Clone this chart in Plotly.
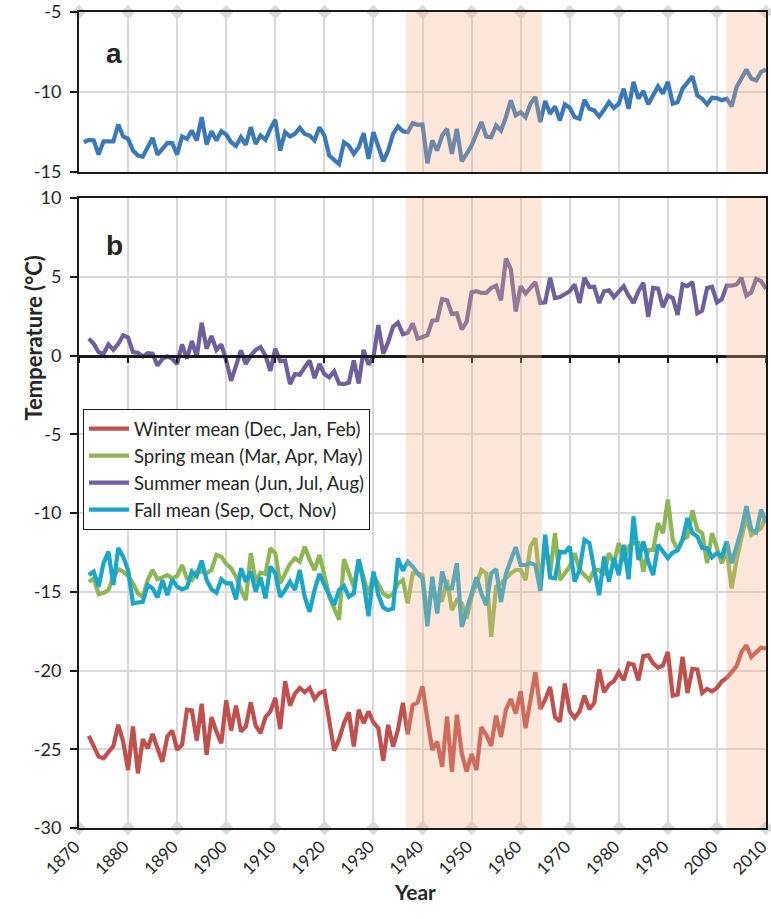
import plotly.graph_objects as go

# ---------------- data ----------------
years_annual = list(range(1871, 2011))
annual_mean = [
    -13.14, -12.99, -13.03, -13.91, -13.08, -13.08, -13.08, -12.03, -12.78, -12.93,
    -13.66, -13.97, -14.04, -13.45, -12.87, -13.91, -13.56, -13.20, -13.20, -13.91,
    -12.78, -12.93, -12.41, -13.03, -11.57, -13.28, -12.45, -13.03, -12.45, -12.66,
    -13.14, -13.37, -12.82, -13.30, -12.20, -13.24, -12.72, -12.99, -12.30, -11.74,
    -13.66, -12.51, -12.78, -12.62, -12.24, -12.62, -12.72, -13.03, -12.20, -12.72,
    -13.97, -14.25, -14.50, -13.14, -13.35, -13.87, -13.45, -12.57, -14.18, -12.51,
    -13.45, -14.33, -13.66, -12.62, -12.15, -12.45, -12.51, -11.95, -12.05, -12.03,
    -14.46, -13.03, -13.66, -12.72, -12.30, -13.87, -12.30, -14.33, -13.87, -13.35,
    -12.62, -11.88, -12.78, -12.82, -12.09, -12.41, -11.57, -10.52, -11.46, -11.26,
    -11.57, -10.73, -10.31, -11.88, -10.56, -11.36, -10.90, -11.78, -10.77, -10.98,
    -11.57, -11.67, -10.48, -11.05, -11.15, -11.53, -11.11, -10.63, -11.00, -10.73,
    -9.79, -11.05, -9.37, -10.42, -9.94, -10.77, -10.21, -9.64, -10.10, -9.37,
    -10.73, -10.63, -9.79, -9.37, -9.02, -10.21, -10.42, -10.77, -10.36, -10.38,
    -10.52, -10.42, -10.90, -9.69, -9.16, -8.60, -9.16, -9.27, -8.74, -8.60,
]

years_season = list(range(1872, 2011))
winter_mean = [
    -24.15, -24.79, -25.47, -25.57, -25.15, -24.79, -23.45, -24.51, -26.32,
    -23.55, -26.53, -24.36, -24.94, -24.02, -24.94, -25.79, -24.19, -23.81, -25.04,
    -24.72, -22.49, -22.53, -24.45, -22.11, -25.36, -22.96, -23.87, -24.62, -21.89,
    -23.81, -22.23, -23.87, -23.55, -22.02, -23.51, -23.98, -22.96, -22.60, -21.74,
    -23.72, -20.68, -22.23, -21.47, -21.11, -21.38, -21.11, -21.81, -21.43, -21.32,
    -23.02, -25.09, -24.36, -23.34, -22.66, -24.83, -22.49, -23.34, -22.60, -23.30,
    -23.66, -25.72, -23.45, -24.83, -23.77, -22.06, -24.05, -22.20, -22.04, -21.00,
    -23.13, -25.04, -24.51, -26.11, -22.91, -26.43, -22.81, -25.26, -26.43, -25.30,
    -26.32, -23.60, -24.09, -24.79, -22.87, -24.23, -22.49, -21.81, -22.74, -21.32,
    -23.66, -21.85, -20.11, -22.45, -21.85, -21.04, -22.96, -23.23, -20.83, -22.60,
    -23.02, -22.60, -21.60, -22.45, -22.06, -19.94, -21.38, -20.89, -20.68, -20.11,
    -20.62, -19.55, -19.62, -20.62, -19.09, -19.04, -19.55, -19.83, -19.68, -18.83,
    -21.60, -21.53, -19.13, -21.43, -19.89, -19.94, -21.43, -21.17, -21.32, -21.11,
    -20.68, -20.47, -20.04, -19.72, -18.83, -18.40, -19.13, -18.87, -18.55, -18.62,
]
spring_mean = [
    -14.36, -14.15, -15.15, -15.06, -14.89, -14.04, -13.57, -13.72, -14.00,
    -14.47, -15.11, -15.32, -14.26, -13.62, -14.21, -14.04, -13.94, -14.15, -14.00,
    -13.30, -14.15, -14.26, -13.72, -13.72, -13.83, -13.62, -12.66, -12.77, -13.23,
    -13.51, -14.04, -14.89, -15.53, -12.55, -14.36, -13.79, -13.87, -12.23, -12.55,
    -14.47, -13.83, -13.23, -12.87, -13.09, -12.13, -12.98, -13.62, -12.66, -13.94,
    -15.32, -16.06, -16.77, -12.94, -13.83, -14.68, -12.98, -14.04, -15.21, -13.94,
    -14.47, -15.11, -15.32, -15.15, -14.47, -14.26, -15.74, -13.83, -13.83, -13.94,
    -16.60, -14.68, -15.53, -15.53, -14.26, -16.17, -15.53, -15.74, -16.70, -15.32,
    -14.47, -13.62, -13.83, -17.87, -14.68, -14.47, -14.15, -13.83, -13.62, -13.62,
    -14.26, -12.13, -11.60, -14.68, -11.91, -13.83, -11.28, -14.26, -13.83, -13.40,
    -12.55, -13.62, -13.94, -14.26, -13.62, -13.62, -13.94, -12.55, -13.19, -11.91,
    -13.09, -12.13, -11.91, -11.91, -13.72, -12.34, -12.34, -10.64, -11.28, -9.15,
    -11.70, -12.34, -11.70, -11.49, -9.83, -11.06, -11.28, -13.19, -11.28, -12.34,
    -13.19, -12.34, -14.79, -12.98, -11.70, -10.21, -11.38, -11.17, -10.96, -10.21,
]
summer_mean = [
    1.07, 0.75, 0.21, 0.11, 0.71, 0.36, 0.75, 1.29, 1.14,
    0.21, 0.17, -0.06, 0.15, 0.11, -0.64, -0.21, -0.06, -0.21, -0.54,
    0.71, -0.21, 0.92, -0.06, 2.08, 0.43, 1.24, 0.36, 0.71, -0.32,
    -1.61, -0.64, 0.32, -0.54, 0.00, 0.36, 0.54, 0.00, -0.97, 0.43,
    -0.36, -0.32, -1.82, -1.18, -1.22, -0.75, -0.32, -1.44, -0.54, -1.18,
    -1.39, -1.01, -1.78, -1.82, -1.72, -0.32, -1.78, 0.36, -0.58, -0.11,
    1.93, 0.11, 0.86, 1.82, 2.08, 1.35, 1.44, 2.04, 1.07, 1.18,
    1.29, 2.21, 2.25, 3.58, 3.50, 2.64, 2.68, 1.65, 2.15, 4.01,
    4.08, 3.97, 3.97, 4.29, 4.44, 3.50, 6.16, 5.47, 2.79, 4.40,
    3.93, 4.29, 4.66, 3.33, 3.37, 4.94, 3.65, 3.71, 3.93, 4.08,
    4.51, 3.33, 4.94, 4.36, 4.36, 3.33, 4.08, 4.14, 3.71, 4.08,
    4.40, 3.80, 3.33, 4.08, 4.61, 2.47, 4.29, 4.25, 3.07, 3.80,
    3.65, 2.58, 4.51, 4.40, 4.66, 2.68, 2.85, 4.29, 4.36, 3.37,
    3.58, 4.44, 4.44, 4.51, 4.94, 3.80, 4.01, 4.87, 4.72, 4.23,
]
fall_mean = [
    -13.94, -13.72, -14.68, -13.19, -12.45, -14.57, -12.23, -12.77, -13.62,
    -15.74, -15.68, -15.64, -14.57, -14.79, -15.36, -14.26, -15.21, -14.21, -14.68,
    -14.85, -14.72, -13.72, -14.00, -13.02, -14.26, -14.85, -15.06, -14.21, -14.47,
    -14.47, -15.49, -13.51, -14.36, -13.72, -15.00, -14.09, -15.43, -13.40, -13.83,
    -15.32, -14.89, -14.36, -14.89, -13.62, -15.32, -16.28, -14.89, -13.87, -14.57,
    -15.15, -15.85, -14.89, -14.64, -15.32, -15.11, -12.94, -14.43, -16.55, -13.72,
    -15.21, -16.00, -16.17, -16.06, -12.87, -13.66, -13.09, -13.40, -13.83, -14.15,
    -17.19, -14.04, -16.38, -13.72, -14.79, -14.79, -13.19, -17.23, -16.13, -15.11,
    -14.09, -15.11, -15.85, -13.83, -13.57, -15.64, -13.87, -12.98, -12.17, -13.30,
    -13.30, -13.19, -13.30, -14.94, -11.38, -14.09, -14.15, -12.45, -12.51, -12.13,
    -14.36, -13.62, -11.70, -11.91, -13.62, -15.21, -12.77, -14.36, -12.87, -13.94,
    -12.02, -14.21, -10.21, -12.98, -11.81, -13.09, -13.94, -12.02, -12.45, -12.87,
    -12.51, -12.38, -11.70, -10.32, -11.28, -11.49, -12.23, -12.23, -12.81, -12.55,
    -12.77, -11.81, -13.19, -12.13, -11.06, -9.57, -11.06, -11.23, -9.79, -10.60,
]

season_names = [
    "Winter mean (Dec, Jan, Feb)",
    "Spring mean (Mar, Apr, May)",
    "Summer mean (Jun, Jul, Aug)",
    "Fall mean (Sep, Oct, Nov)",
]
season_values = [winter_mean, spring_mean, summer_mean, fall_mean]
season_colors = ["#C0504D", "#8DB654", "#6F5F9E", "#1BA5C9"]
annual_color = "#3A78B8"

decade_ticks = list(range(1870, 2011, 10))
decade_labels = [str(y) for y in decade_ticks]
ya_ticks = [-15, -10, -5]
yb_ticks = list(range(-30, 11, 5))
shade_periods = [(1936.6, 1964.3), (2001.9, 2010)]

# ---------------- figure ----------------
FONT = "Lato"
TXT = "#262626"
GRID = "#d9d9d9"
AXC = "#1a1a1a"
LW = 4.2

fig = go.Figure()

fig.add_trace(go.Scatter(
    x=years_annual, y=annual_mean, mode="lines", xaxis="x", yaxis="y",
    line=dict(color=annual_color, width=LW), showlegend=False, name="Annual mean"))

draw_order = [2, 0, 1, 3]
for i in draw_order:
    fig.add_trace(go.Scatter(
        x=years_season, y=season_values[i], mode="lines", xaxis="x2", yaxis="y2",
        line=dict(color=season_colors[i], width=LW), name=season_names[i],
        legendgroup=str(i), legendrank=i + 1))

# diamond tick markers
fig.add_trace(go.Scatter(
    x=decade_ticks, y=[-5] * len(decade_ticks), mode="markers", xaxis="x", yaxis="y",
    marker=dict(symbol="diamond", size=11, color=GRID), cliponaxis=False,
    showlegend=False, hoverinfo="skip"))
fig.add_trace(go.Scatter(
    x=decade_ticks, y=[-30] * len(decade_ticks), mode="markers", xaxis="x2", yaxis="y2",
    marker=dict(symbol="diamond", size=11, color=GRID), cliponaxis=False,
    showlegend=False, hoverinfo="skip"))

# plot geometry (pixels)
W, H = 771, 919
L, R, T, B = 79, 5, 12, 91
ph = H - T - B
pw = W - L - R
a_bottom = (H - B - 172) / ph
b_top = (H - B - 198) / ph
yb_range = [-30, 10]
zero_pos = b_top * (0 - yb_range[0]) / (yb_range[1] - yb_range[0])

common_x = dict(range=[1870, 2010], tickvals=decade_ticks, showgrid=True, gridcolor=GRID,
                gridwidth=1.5, showline=True, mirror=True, linecolor=AXC, linewidth=2,
                zeroline=False, ticks="", automargin=False)
common_y = dict(showgrid=True, gridcolor=GRID, gridwidth=1.5, showline=True, mirror=True,
                linecolor=AXC, linewidth=2, zeroline=False, ticks="outside", ticklen=7,
                tickwidth=1.5, tickcolor=AXC, ticklabelstandoff=5, automargin=False,
                ticklabeloverflow="allow",
                tickfont=dict(family=FONT, size=18, color=TXT))

fig.update_layout(
    width=W, height=H,
    margin=dict(l=L, r=R, t=T, b=B, autoexpand=False),
    paper_bgcolor="white", plot_bgcolor="white",
    xaxis=dict(domain=[0, 1], anchor="y", showticklabels=False, **common_x),
    yaxis=dict(domain=[a_bottom, 1], anchor="x", range=[-15, -5], tickvals=ya_ticks,
               ticktext=[str(v) for v in ya_ticks], **common_y),
    xaxis2=dict(domain=[0, 1], anchor="y2", showticklabels=True, ticktext=decade_labels,
                tickangle=-45, ticklabeloverflow="allow", ticklabelshift=-4,
                tickfont=dict(family=FONT, size=17, color=TXT), **common_x),
    yaxis2=dict(domain=[0, b_top], anchor="x2", range=yb_range, tickvals=yb_ticks,
                ticktext=[str(v) for v in yb_ticks], **common_y),
    xaxis3=dict(overlaying="x2", anchor="free", position=zero_pos, range=[1870, 2010],
                tickvals=decade_ticks, showticklabels=False, showgrid=False, zeroline=False,
                showline=True, linecolor=AXC, linewidth=2.5, ticks="outside", ticklen=6,
                tickwidth=2, tickcolor=AXC, automargin=False),
    legend=dict(x=(83 - L) / pw, y=(H - B - 409) / ph, xanchor="left", yanchor="top",
                bordercolor=AXC, borderwidth=1, bgcolor="white",
                font=dict(family=FONT, size=18.5, color=TXT), tracegroupgap=5,
                traceorder="normal", itemwidth=40),
    showlegend=True,
)

fig.add_trace(go.Scatter(x=[1870, 2010], y=[None, None], xaxis="x3", yaxis="y2",
                         showlegend=False, hoverinfo="skip", mode="lines"))

shapes = []
for x0, x1 in shade_periods:
    shapes.append(dict(type="rect", xref="x", yref="y", x0=x0, x1=x1, y0=-15, y1=-5,
                       fillcolor="rgba(244,177,131,0.30)", line=dict(width=0), layer="above"))
    shapes.append(dict(type="rect", xref="x2", yref="y2", x0=x0, x1=x1, y0=-30, y1=10,
                       fillcolor="rgba(244,177,131,0.30)", line=dict(width=0), layer="above"))
fig.update_layout(shapes=shapes)

fig.add_annotation(text="<b>a</b>", xref="paper", yref="paper",
                   x=(104 - L) / pw, y=(H - B - 36) / ph, showarrow=False,
                   font=dict(family="Liberation Sans", size=28, color=TXT))
fig.add_annotation(text="<b>b</b>", xref="paper", yref="paper",
                   x=(104 - L) / pw, y=(H - B - 228) / ph, showarrow=False,
                   font=dict(family="Liberation Sans", size=28, color=TXT))
fig.add_annotation(text="<b>Temperature (°C)</b>", xref="paper", yref="paper",
                   x=(17 - L) / pw, y=(H - B - 338) / ph, showarrow=False, textangle=-90,
                   font=dict(family=FONT, size=22, color=TXT))
fig.add_annotation(text="<b>Year</b>", xref="paper", yref="paper",
                   x=(415 - L) / pw, y=(H - B - 906) / ph, showarrow=False,
                   font=dict(family=FONT, size=21, color=TXT))

fig.write_html("out.html", config={"displayModeBar": False},
               post_script="document.body.style.margin='0';document.body.style.padding='0';")
